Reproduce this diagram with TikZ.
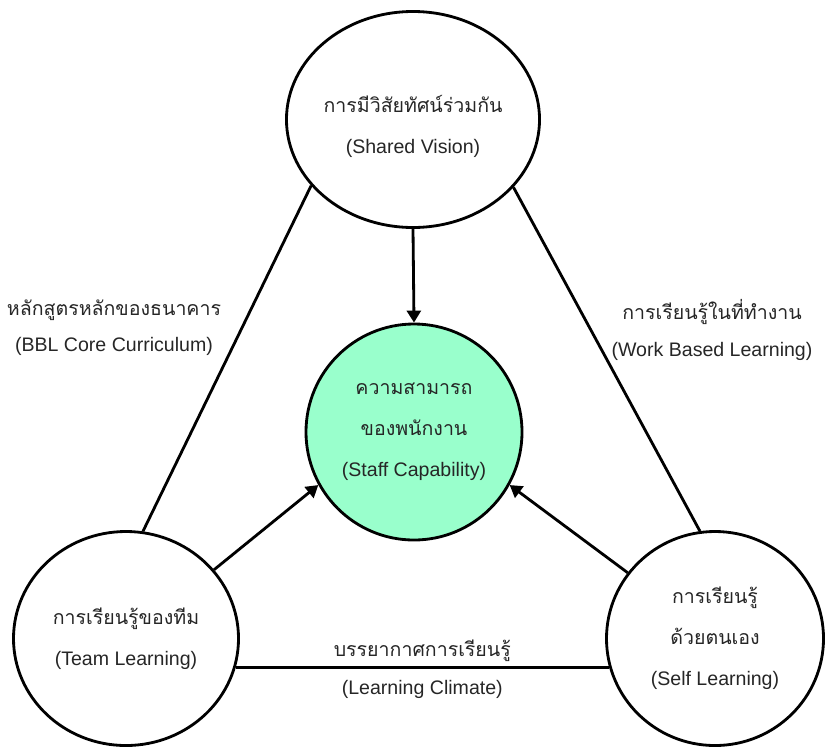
\documentclass[tikz,border=0pt]{standalone}
\usepackage{fontspec}
\setmainfont{Liberation Sans}
\newfontfamily\thaifont[Script=Thai]{Loma}
\usepackage{xcolor}
\definecolor{mintgreen}{HTML}{99FFCC}
\usepackage{tikz}
\usetikzlibrary{shapes.geometric,arrows.meta}
\tikzset{
  bubble/.style={ellipse, draw=black, line width=2.4pt, fill=white, align=center,
                 inner sep=0pt, text=black!85, font=\fontsize{16.7}{35}\selectfont},
  core/.style  ={bubble, fill=mintgreen},
  link/.style  ={line width=2.4pt},
  arr/.style   ={link, -{Triangle[length=3.6mm, width=4.2mm]}},
  elbl/.style  ={align=center, inner sep=0pt, text=black!85,
                 font=\fontsize{16.7}{31}\selectfont},
}
\newcommand{\thtxt}[1]{{\thaifont #1}}

\begin{document}
\begin{tikzpicture}[x=0.03cm, y=-0.03cm]
  \useasboundingbox (0,0) rectangle (825,748);
  % circles
  \node[bubble, minimum width=6.78cm, minimum height=6.48cm] (vision) at (413,119.5)
    {\rule{0pt}{27pt}\thtxt{การมีวิสัยทัศน์ร่วมกัน}\\(Shared Vision)};
  \node[core, minimum width=6.48cm, minimum height=6.48cm] (staff) at (414,432)
    {\thtxt{ความสามารถ}\\\thtxt{ของพนักงาน}\\(Staff Capability)};
  \node[bubble, minimum width=6.75cm, minimum height=6.42cm] (team) at (126,638.5)
    {\thtxt{การเรียนรู้ของทีม}\\(Team Learning)};
  \node[bubble, minimum width=6.51cm, minimum height=6.42cm] (self) at (715,638.5)
    {\thtxt{การเรียนรู้}\\\thtxt{ด้วยตนเอง}\\(Self Learning)};
  % triangle sides
  \draw[link] (vision.213) -- (team.81);
  \draw[link] (vision.326) -- (self.98);
  \draw[link] (team.345) --
    node[elbl, anchor=base, yshift=10pt] (climth) {\thtxt{บรรยากาศการเรียนรู้}}
    node[elbl, anchor=base, yshift=-23pt] (climen) {(Learning Climate)} (self.195 |- team.345);
  \node[elbl] (coreth) at (114,328) {\thtxt{หลักสูตรหลักของธนาคาร}\\(BBL Core Curriculum)};
  \node[elbl] (workth) at (712,330) {\thtxt{การเรียนรู้ในที่ทำงาน}\\(Work Based Learning)};
  % arrows into the centre
  \draw[arr] (vision.south) -- (staff.north);
  \draw[arr] (team.38) -- (staff.209);
  \draw[arr] (self.143) -- (staff.331);
\end{tikzpicture}
\end{document}
